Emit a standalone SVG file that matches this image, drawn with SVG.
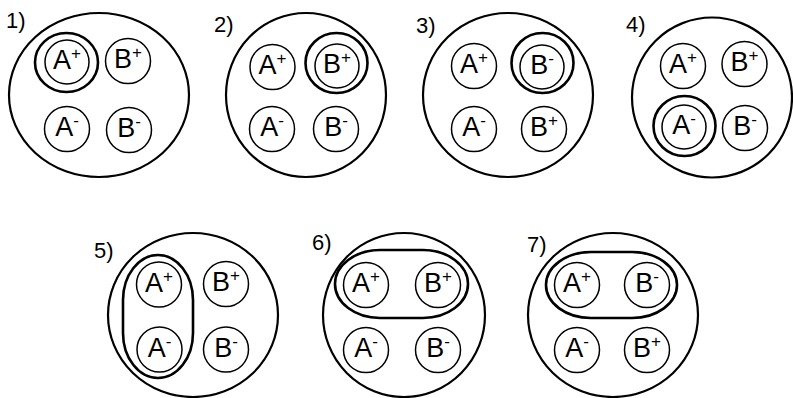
<svg xmlns="http://www.w3.org/2000/svg" width="793" height="398" viewBox="0 0 793 398">
<style>
.bg{fill:#fff}
.outer{fill:none;stroke:#000;stroke-width:2.2}
.node{fill:none;stroke:#000;stroke-width:1.5}
.ring{fill:none;stroke:#000;stroke-width:2.6}
.lbl{font-family:"Liberation Sans",Arial,sans-serif;font-size:27px;fill:#000;text-anchor:middle}
.num{font-family:"Liberation Sans",Arial,sans-serif;font-size:22px;fill:#000}
.sup{font-size:17px}
</style>
<rect class="bg" width="793" height="398"/>

<g id="panel1">
<text class="num" x="6" y="28">1)</text>
<ellipse class="outer" cx="99" cy="95" rx="90" ry="82"/>
<g id="p1-Aplus"><ellipse class="ring" cx="66.5" cy="62.5" rx="31.5" ry="29.5"/><circle class="node" cx="67" cy="62" r="22"/><text class="lbl" x="67" y="69">A<tspan class="sup" dy="-10">+</tspan></text></g>
<g id="p1-Bplus"><circle class="node" cx="128" cy="61" r="22.5"/><text class="lbl" x="128" y="68">B<tspan class="sup" dy="-10">+</tspan></text></g>
<g id="p1-Aminus"><circle class="node" cx="67" cy="129" r="22.5"/><text class="lbl" x="67" y="136">A<tspan class="sup" dy="-10">-</tspan></text></g>
<g id="p1-Bminus"><circle class="node" cx="129" cy="130" r="22.5"/><text class="lbl" x="129" y="137">B<tspan class="sup" dy="-10">-</tspan></text></g>
</g>

<g id="panel2">
<text class="num" x="214" y="32">2)</text>
<ellipse class="outer" cx="306" cy="95" rx="80" ry="82"/>
<g id="p2-Aplus"><circle class="node" cx="272.5" cy="67" r="22.5"/><text class="lbl" x="272.5" y="74">A<tspan class="sup" dy="-10">+</tspan></text></g>
<g id="p2-Bplus"><ellipse class="ring" cx="336.5" cy="63" rx="31" ry="30"/><circle class="node" cx="337" cy="66" r="22"/><text class="lbl" x="337" y="73">B<tspan class="sup" dy="-10">+</tspan></text></g>
<g id="p2-Aminus"><circle class="node" cx="272" cy="129" r="22.5"/><text class="lbl" x="272" y="136">A<tspan class="sup" dy="-10">-</tspan></text></g>
<g id="p2-Bminus"><circle class="node" cx="336" cy="129" r="22.5"/><text class="lbl" x="336" y="136">B<tspan class="sup" dy="-10">-</tspan></text></g>
</g>

<g id="panel3">
<text class="num" x="416" y="33">3)</text>
<ellipse class="outer" cx="508" cy="95" rx="85" ry="82"/>
<g id="p3-Aplus"><circle class="node" cx="474" cy="66" r="22.5"/><text class="lbl" x="474" y="73">A<tspan class="sup" dy="-10">+</tspan></text></g>
<g id="p3-Bminus"><ellipse class="ring" cx="542.5" cy="63" rx="31" ry="30"/><circle class="node" cx="542" cy="67" r="22"/><text class="lbl" x="542" y="74">B<tspan class="sup" dy="-10">-</tspan></text></g>
<g id="p3-Aminus"><circle class="node" cx="474" cy="129" r="22.5"/><text class="lbl" x="474" y="136">A<tspan class="sup" dy="-10">-</tspan></text></g>
<g id="p3-Bplus"><circle class="node" cx="544" cy="129" r="22.5"/><text class="lbl" x="544" y="136">B<tspan class="sup" dy="-10">+</tspan></text></g>
</g>

<g id="panel4">
<text class="num" x="626" y="32">4)</text>
<ellipse class="outer" cx="712" cy="97.5" rx="80" ry="80"/>
<g id="p4-Aplus"><circle class="node" cx="683" cy="66" r="22.5"/><text class="lbl" x="683" y="73">A<tspan class="sup" dy="-10">+</tspan></text></g>
<g id="p4-Bplus"><circle class="node" cx="744.5" cy="64" r="22.5"/><text class="lbl" x="744.5" y="71">B<tspan class="sup" dy="-10">+</tspan></text></g>
<g id="p4-Aminus"><ellipse class="ring" cx="684.5" cy="126" rx="31" ry="30"/><circle class="node" cx="684" cy="127" r="22"/><text class="lbl" x="684" y="134">A<tspan class="sup" dy="-10">-</tspan></text></g>
<g id="p4-Bminus"><circle class="node" cx="745" cy="128" r="22.5"/><text class="lbl" x="745" y="135">B<tspan class="sup" dy="-10">-</tspan></text></g>
</g>

<g id="panel5">
<text class="num" x="94" y="258">5)</text>
<ellipse class="outer" cx="193" cy="315" rx="85" ry="82"/>
<rect class="ring" x="123" y="255" width="70" height="123" rx="35" ry="45"/>
<g id="p5-Aplus"><circle class="node" cx="159" cy="284.5" r="22.5"/><text class="lbl" x="159" y="291.5">A<tspan class="sup" dy="-10">+</tspan></text></g>
<g id="p5-Bplus"><circle class="node" cx="226" cy="284" r="22.5"/><text class="lbl" x="226" y="291">B<tspan class="sup" dy="-10">+</tspan></text></g>
<g id="p5-Aminus"><circle class="node" cx="159.5" cy="349.5" r="22.5"/><text class="lbl" x="159.5" y="356.5">A<tspan class="sup" dy="-10">-</tspan></text></g>
<g id="p5-Bminus"><circle class="node" cx="226" cy="349.5" r="22.5"/><text class="lbl" x="226" y="356.5">B<tspan class="sup" dy="-10">-</tspan></text></g>
</g>

<g id="panel6">
<text class="num" x="312" y="250">6)</text>
<ellipse class="outer" cx="404" cy="315" rx="81" ry="82"/>
<rect class="ring" x="335" y="250" width="133" height="68" rx="45" ry="34"/>
<g id="p6-Aplus"><circle class="node" cx="366" cy="285" r="22.5"/><text class="lbl" x="366" y="292">A<tspan class="sup" dy="-10">+</tspan></text></g>
<g id="p6-Bplus"><circle class="node" cx="438" cy="285" r="22.5"/><text class="lbl" x="438" y="292">B<tspan class="sup" dy="-10">+</tspan></text></g>
<g id="p6-Aminus"><circle class="node" cx="366" cy="350" r="22.5"/><text class="lbl" x="366" y="357">A<tspan class="sup" dy="-10">-</tspan></text></g>
<g id="p6-Bminus"><circle class="node" cx="438" cy="350" r="22.5"/><text class="lbl" x="438" y="357">B<tspan class="sup" dy="-10">-</tspan></text></g>
</g>

<g id="panel7">
<text class="num" x="527" y="252">7)</text>
<ellipse class="outer" cx="613" cy="315" rx="85" ry="82"/>
<rect class="ring" x="546" y="252" width="131" height="66" rx="45" ry="33"/>
<g id="p7-Aplus"><circle class="node" cx="577" cy="285" r="22.5"/><text class="lbl" x="577" y="292">A<tspan class="sup" dy="-10">+</tspan></text></g>
<g id="p7-Bminus"><circle class="node" cx="647" cy="285" r="22.5"/><text class="lbl" x="647" y="292">B<tspan class="sup" dy="-10">-</tspan></text></g>
<g id="p7-Aminus"><circle class="node" cx="577" cy="350" r="22.5"/><text class="lbl" x="577" y="357">A<tspan class="sup" dy="-10">-</tspan></text></g>
<g id="p7-Bplus"><circle class="node" cx="647" cy="350" r="22.5"/><text class="lbl" x="647" y="357">B<tspan class="sup" dy="-10">+</tspan></text></g>
</g>
</svg>
